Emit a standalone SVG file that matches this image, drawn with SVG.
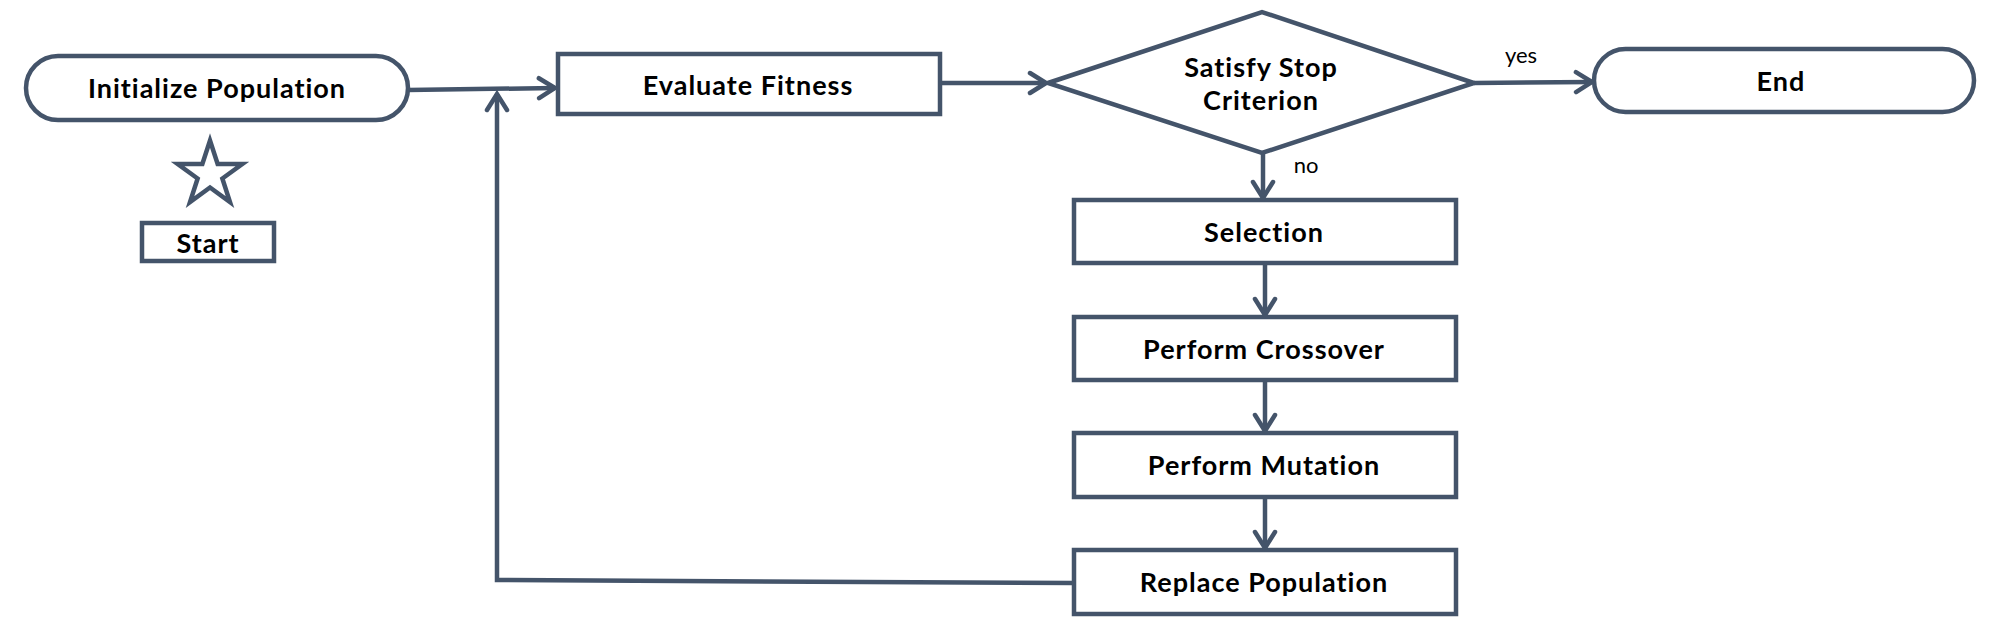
<svg xmlns="http://www.w3.org/2000/svg" width="2000" height="625" viewBox="0 0 2000 625">
<style>
.shape{fill:#ffffff;stroke:#44546A;stroke-width:4.5}
.lbl{font-family:Lato,"Liberation Sans",sans-serif;font-weight:700;font-size:27px;letter-spacing:1px;fill:#000;text-anchor:middle}
.small{font-family:Lato,"Liberation Sans",sans-serif;font-weight:400;font-size:22px;fill:#000;text-anchor:middle}
.conn{fill:none;stroke:#44546A;stroke-width:4.5}
</style>
<defs>
<marker id="arr" markerUnits="userSpaceOnUse" viewBox="-20 -14 24 28" markerWidth="24" markerHeight="28" refX="0" refY="0" orient="auto">
<path d="M-16,-10 L0,0 L-16,10" fill="none" stroke="#44546A" stroke-width="4.5" stroke-linecap="round" stroke-linejoin="miter"/>
</marker>
</defs>
<rect width="2000" height="625" fill="#ffffff"/>
<g id="connectors">
<path class="conn" d="M408,90 L555,88" marker-end="url(#arr)"/>
<path class="conn" d="M940,83 L1046,83" marker-end="url(#arr)"/>
<path class="conn" d="M1474,83 L1592,82" marker-end="url(#arr)"/>
<path class="conn" d="M1263,153 L1263,198" marker-end="url(#arr)"/>
<path class="conn" d="M1265,263 L1265,315" marker-end="url(#arr)"/>
<path class="conn" d="M1265,380 L1265,431" marker-end="url(#arr)"/>
<path class="conn" d="M1265,497 L1265,548" marker-end="url(#arr)"/>
<path class="conn" d="M1074,583 L497,580 L497,94" marker-end="url(#arr)"/>
<text class="small" x="1521" y="63">yes</text>
<text class="small" x="1306" y="173">no</text>
</g>
<g id="init">
<rect class="shape" x="26" y="56" width="382" height="64" rx="32" ry="32"/>
<text class="lbl" x="217" y="98">Initialize Population</text>
</g>
<g id="start">
<polygon class="shape" points="210,140.5 217.64,163.98 242.34,163.99 222.36,178.52 229.98,202.01 210,187.5 190.02,202.01 197.64,178.52 177.66,163.99 202.36,163.98"/>
<rect class="shape" x="142" y="223" width="132" height="38"/>
<text class="lbl" x="208" y="253">Start</text>
</g>
<g id="evaluate">
<rect class="shape" x="558" y="54" width="382" height="60"/>
<text class="lbl" x="748" y="95">Evaluate Fitness</text>
</g>
<g id="decision">
<polygon class="shape" points="1048,83 1262,12 1474,83 1262,153"/>
<text class="lbl" x="1261" y="77">Satisfy Stop</text>
<text class="lbl" x="1261" y="110">Criterion</text>
</g>
<g id="end">
<rect class="shape" x="1594" y="49" width="380" height="63" rx="31.5" ry="31.5"/>
<text class="lbl" x="1781" y="91">End</text>
</g>
<g id="selection">
<rect class="shape" x="1074" y="200" width="382" height="63"/>
<text class="lbl" x="1264" y="242">Selection</text>
</g>
<g id="crossover">
<rect class="shape" x="1074" y="317" width="382" height="63"/>
<text class="lbl" x="1264" y="359">Perform Crossover</text>
</g>
<g id="mutation">
<rect class="shape" x="1074" y="433" width="382" height="64"/>
<text class="lbl" x="1264" y="475">Perform Mutation</text>
</g>
<g id="replace">
<rect class="shape" x="1074" y="550" width="382" height="64"/>
<text class="lbl" x="1264" y="592">Replace Population</text>
</g>
</svg>
